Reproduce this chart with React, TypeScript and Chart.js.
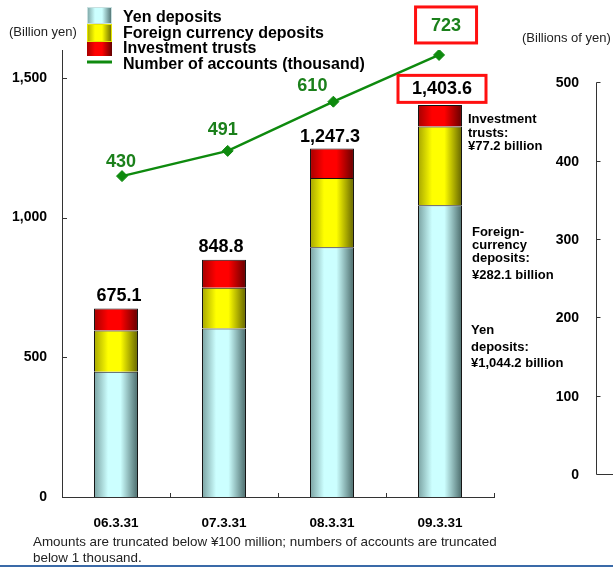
import React, { useEffect, useRef } from "react";
import { Chart, registerables } from "chart.js";

Chart.register(...registerables);

// ---------------- data ----------------
const categories = ["06.3.31", "07.3.31", "08.3.31", "09.3.31"];
const yenDeposits = [448, 603, 894, 1044.2];
const foreignDeposits = [148, 146, 248, 282.1];
const investmentTrusts = [79.1, 99.8, 105.3, 77.2];
const totals = [675.1, 848.8, 1247.3, 1403.6];
const totalLabels = ["675.1", "848.8", "1,247.3", "1,403.6"];
const accounts = [430, 491, 610, 723];
const leftTicks = [0, 500, 1000, 1500];
const rightTicks = [0, 100, 200, 300, 400, 500];
const seriesNames = [
  "Yen deposits",
  "Foreign currency deposits",
  "Investment trusts",
  "Number of accounts (thousand)",
];
const leftAxisTitle = "(Billion yen)";
const rightAxisTitle = "(Billions of yen)";
const trustNote = ["Investment", "trusts:", "¥77.2 billion"];
const foreignNote = ["Foreign-", "currency", "deposits:", "¥282.1 billion"];
const yenNote = ["Yen", "deposits:", "¥1,044.2 billion"];
const footnote = [
  "Amounts are truncated below ¥100 million; numbers of accounts are truncated",
  "below 1 thousand.",
];

// ---------------- styling ----------------
const FONT = "'Liberation Sans', Arial, Helvetica, sans-serif";
const BAR_PCT = 0.407;
const GREEN = "#0e8a0e";
const GREEN_TEXT = "#1b801b";
const palettes = [
  { light: "#ccffff", dark: "#7aa2a2", darker: "#4a6a6a" },
  { light: "#ffff00", dark: "#a6a600", darker: "#646400" },
  { light: "#ff0000", dark: "#a60000", darker: "#640000" },
];
const totalNudge = [
  [3, -12],
  [-3, -13],
  [-2, -12],
  [2, -16],
];
const accountNudge = [
  [-1, -14],
  [-5, -21],
  [-21, -16],
  [7, -29],
];

function makeGrad(ctx: CanvasRenderingContext2D, x0: number, x1: number, p: any) {
  const g = ctx.createLinearGradient(x0, 0, x1, 0);
  g.addColorStop(0, p.dark);
  g.addColorStop(0.32, p.light);
  g.addColorStop(0.6, p.light);
  g.addColorStop(1, p.darker);
  return g;
}

function barFill(p: any) {
  return (c: any) => {
    const chart = c.chart;
    const xs = chart.scales && chart.scales.x;
    if (!xs || c.dataIndex === undefined || !chart.chartArea) return p.light;
    const center = xs.getPixelForValue(c.dataIndex);
    const half = ((xs.right - xs.left) / categories.length) * BAR_PCT / 2;
    if (!isFinite(center) || !isFinite(half) || half <= 0) return p.light;
    return makeGrad(chart.ctx, center - half, center + half, p);
  };
}

const overlay = {
  id: "overlay",
  afterDraw(chart: any) {
    const ctx: CanvasRenderingContext2D = chart.ctx;
    const xs = chart.scales.x;
    const ys = chart.scales.y;
    const yr = chart.scales.yr;
    const area = chart.chartArea;
    const catW = (xs.right - xs.left) / categories.length;
    const half = (catW * BAR_PCT) / 2;
    ctx.save();

    // inward ticks on left axis
    ctx.strokeStyle = "#333";
    ctx.lineWidth = 1;
    leftTicks.forEach((v) => {
      const py = Math.round(ys.getPixelForValue(v)) + 0.5;
      ctx.beginPath();
      ctx.moveTo(area.left, py);
      ctx.lineTo(area.left + 5, py);
      ctx.stroke();
    });
    // inward ticks on x axis at category boundaries
    categories.forEach((_, i) => {
      const px = Math.round(xs.getPixelForValue(i) + catW / 2) + 0.5;
      ctx.beginPath();
      ctx.moveTo(px, area.bottom);
      ctx.lineTo(px, area.bottom - 4);
      ctx.stroke();
    });

    // right axis (separate panel)
    const rx = 596.5;
    const rTop = Math.round(yr.getPixelForValue(500)) + 0.5;
    const rBot = Math.round(yr.getPixelForValue(0)) + 0.5;
    ctx.beginPath();
    ctx.moveTo(rx, rTop);
    ctx.lineTo(rx, rBot);
    ctx.lineTo(chart.width, rBot);
    ctx.stroke();
    ctx.font = `bold 14px ${FONT}`;
    ctx.fillStyle = "#000";
    ctx.textAlign = "right";
    ctx.textBaseline = "middle";
    rightTicks.forEach((v) => {
      const py = Math.round(yr.getPixelForValue(v)) + 0.5;
      if (v !== 0) {
        ctx.beginPath();
        ctx.moveTo(rx, py);
        ctx.lineTo(rx + 4, py);
        ctx.stroke();
      }
      ctx.fillText(String(v), 579, py + 1);
    });

    // axis titles
    ctx.font = `13px ${FONT}`;
    ctx.textAlign = "left";
    ctx.fillStyle = "#222";
    ctx.fillText(leftAxisTitle, 9, 32);
    ctx.fillText(rightAxisTitle, 522, 38);

    // legend
    const lx0 = 87;
    const lx1 = 112;
    const swatchRows = [
      [7, 24],
      [24, 42],
      [42, 56],
    ];
    swatchRows.forEach(([t, b], i) => {
      ctx.fillStyle = makeGrad(ctx, lx0, lx1, palettes[i]);
      ctx.fillRect(lx0, t, lx1 - lx0, b - t);
    });
    ctx.strokeStyle = "#c8e0e0";
    ctx.lineWidth = 1;
    ctx.strokeRect(lx0 + 0.5, 7.5, lx1 - lx0 - 1, 16);
    ctx.strokeStyle = "#e6e600";
    ctx.strokeRect(lx0 + 0.5, 24.5, lx1 - lx0 - 1, 17);
    ctx.fillStyle = GREEN;
    ctx.fillRect(lx0, 60.5, lx1 - lx0, 3);
    ctx.font = `bold 16px ${FONT}`;
    ctx.fillStyle = "#000";
    ctx.textBaseline = "middle";
    const legendY = [18, 34, 49, 65];
    seriesNames.forEach((n, i) => ctx.fillText(n, 123, legendY[i]));

    // total labels above bars
    ctx.font = `bold 18px ${FONT}`;
    ctx.textAlign = "center";
    ctx.textBaseline = "middle";
    totals.forEach((v, i) => {
      const px = xs.getPixelForValue(i) + totalNudge[i][0];
      const py = ys.getPixelForValue(v) + totalNudge[i][1];
      ctx.fillStyle = "#000";
      ctx.fillText(totalLabels[i], px, py);
      if (i === totals.length - 1) {
        ctx.strokeStyle = "#ff1010";
        ctx.lineWidth = 3;
        ctx.strokeRect(px - 44, py - 13.5, 88, 27);
      }
    });

    // account labels
    const meta = chart.getDatasetMeta(3);
    accounts.forEach((v, i) => {
      const el = meta.data[i];
      if (!el) return;
      const px = el.x + accountNudge[i][0];
      const py = el.y + accountNudge[i][1];
      ctx.fillStyle = GREEN_TEXT;
      ctx.fillText(String(v), px, py);
      if (i === accounts.length - 1) {
        ctx.strokeStyle = "#ff1010";
        ctx.lineWidth = 3;
        ctx.strokeRect(px - 30.5, py - 19, 61, 36);
      }
    });

    // notes beside the last bar
    const barRight = xs.getPixelForValue(categories.length - 1) + half;
    ctx.font = `bold 13px ${FONT}`;
    ctx.fillStyle = "#000";
    ctx.textAlign = "left";
    ctx.textBaseline = "alphabetic";
    const trustBase = [122.5, 136.5, 150];
    trustNote.forEach((t, i) => ctx.fillText(t, barRight + 6, trustBase[i]));
    const foreignBase = [236, 248.5, 261.5, 279];
    foreignNote.forEach((t, i) => ctx.fillText(t, barRight + 10, foreignBase[i]));
    const yenBase = [334, 350.5, 366.5];
    yenNote.forEach((t, i) => ctx.fillText(t, barRight + 9, yenBase[i]));

    // footnote
    ctx.font = `13.4px ${FONT}`;
    ctx.fillStyle = "#222";
    ctx.fillText(footnote[0], 33, 545.5);
    ctx.fillText(footnote[1], 33, 561.5);

    // bottom blue rule
    ctx.fillStyle = "#3a6aa8";
    ctx.fillRect(0, 565, chart.width, 2);

    ctx.restore();
  },
};

export default function App() {
  const ref = useRef<HTMLCanvasElement | null>(null);

  useEffect(() => {
    document.body.style.margin = "0";
    const canvas = ref.current;
    if (!canvas) return;
    Chart.defaults.font.family = FONT;
    const barCommon = {
      type: "bar" as const,
      stack: "s",
      order: 1,
      grouped: false,
      borderColor: "#111",
      borderWidth: 1,
      barPercentage: BAR_PCT,
      categoryPercentage: 1,
      xAxisID: "x",
      yAxisID: "y",
    };
    const chart = new Chart(canvas, {
      type: "bar",
      data: {
        labels: categories,
        datasets: [
          { ...barCommon, label: seriesNames[0], data: yenDeposits, backgroundColor: barFill(palettes[0]) },
          { ...barCommon, label: seriesNames[1], data: foreignDeposits, backgroundColor: barFill(palettes[1]) },
          { ...barCommon, label: seriesNames[2], data: investmentTrusts, backgroundColor: barFill(palettes[2]) },
          {
            type: "line",
            label: seriesNames[3],
            data: accounts.map((v, i) => ({ x: i, y: v })),
            xAxisID: "xl",
            yAxisID: "yl",
            order: 0,
            borderColor: GREEN,
            backgroundColor: GREEN,
            borderWidth: 2.5,
            tension: 0,
            pointStyle: "rectRot",
            pointRadius: 5.5,
            pointBackgroundColor: GREEN,
            pointBorderColor: GREEN,
            pointBorderWidth: 1,
          } as any,
        ],
      },
      options: {
        animation: false,
        responsive: false,
        layout: { padding: { top: 50, right: 119, left: 0, bottom: 0 } },
        plugins: { legend: { display: false }, tooltip: { enabled: false } },
        scales: {
          x: {
            stacked: true,
            grid: { display: false },
            border: { display: true, color: "#333", width: 1 },
            ticks: { color: "#000", font: { size: 13.5, weight: "bold" }, padding: 10 },
            afterFit: (s: any) => {
              s.height = 70;
            },
          },
          y: {
            stacked: true,
            min: 0,
            max: 1600,
            grid: { display: false },
            border: { display: true, color: "#333", width: 1 },
            ticks: {
              stepSize: 500,
              padding: 7,
              color: "#000",
              font: { size: 14, weight: "bold" },
              callback: (v: any) => Number(v).toLocaleString("en-US"),
            },
            afterBuildTicks: (s: any) => {
              s.ticks = leftTicks.map((v) => ({ value: v }));
            },
            afterFit: (s: any) => {
              s.width = 62;
            },
          },
          xl: {
            type: "linear",
            display: false,
            offset: false,
            grid: { offset: false },
            min: -0.568,
            max: 3.52,
          },
          yl: { type: "linear", display: false, min: -346, max: 735 },
          yr: { type: "linear", display: false, position: "right", min: -28.7, max: 540.8 },
        },
      } as any,
      plugins: [overlay],
    });
    return () => chart.destroy();
  }, []);

  return (
    <div style={{ position: "fixed", left: 0, top: 0, width: 613, height: 567, background: "#fff" }}>
      <canvas ref={ref} width={613} height={567} style={{ display: "block" }} />
    </div>
  );
}
